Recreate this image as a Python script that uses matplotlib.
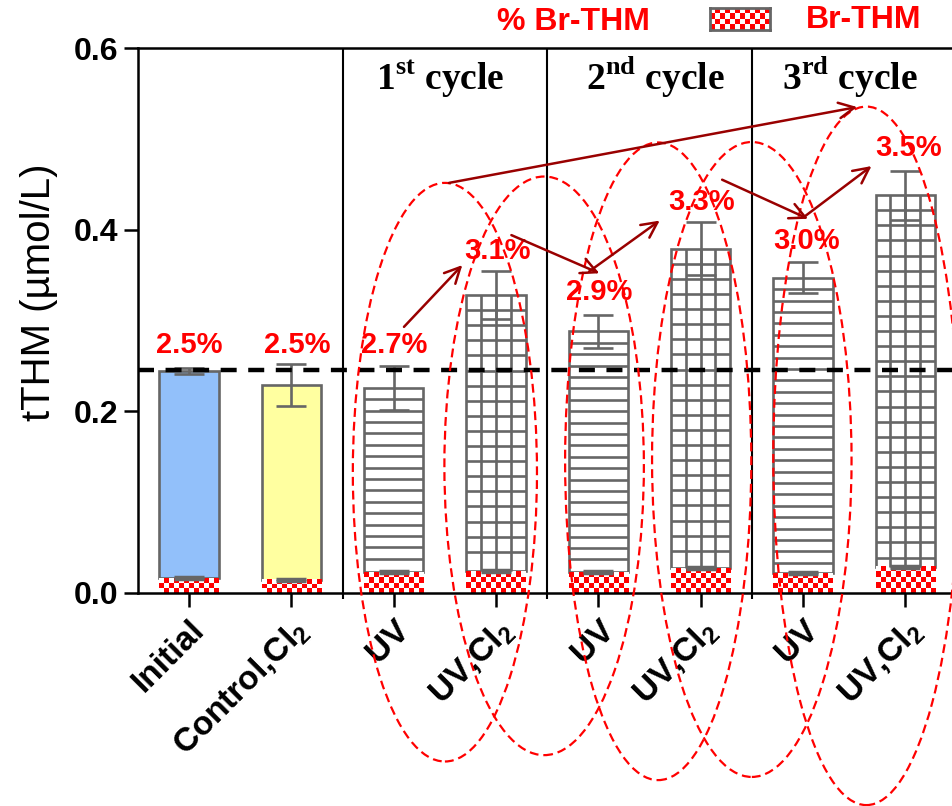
import numpy as np
import matplotlib.pyplot as plt
from matplotlib.patches import Ellipse
from matplotlib.colors import ListedColormap

# Datos
categories = ['Initial', 'Control,Cl$_{\\mathregular{2}}$',
              'UV', 'UV,Cl$_{\\mathregular{2}}$',
              'UV', 'UV,Cl$_{\\mathregular{2}}$',
              'UV', 'UV,Cl$_{\\mathregular{2}}$']
tthm = [0.2445, 0.229, 0.226, 0.328, 0.288, 0.379, 0.347, 0.438]
tthm_err = [0.003, 0.023, 0.024, 0.026, 0.018, 0.029, 0.017, 0.027]
br_thm = [0.0165, 0.0145, 0.023, 0.024, 0.023, 0.0275, 0.022, 0.0287]
br_err = [0.001, 0.001, 0.001, 0.001, 0.001, 0.001, 0.001, 0.001]
br_pct = [2.5, 2.5, 2.7, 3.1, 2.9, 3.3, 3.0, 3.5]
cycles = ['1$^{\\mathregular{st}}$ cycle', '2$^{\\mathregular{nd}}$ cycle',
          '3$^{\\mathregular{rd}}$ cycle']
reference_level = 0.245

# Estilos de cada barra
fills = ['#92C0FA', '#FFFFA0', 'white', 'white', 'white', 'white', 'white', 'white']
patterns = ['solid', 'solid', 'lines', 'grid', 'lines', 'grid', 'lines', 'grid']

# Posiciones de las anotaciones (coordenadas de datos)
pct_xy = [(0.0, 0.273), (1.06, 0.273), (2.0, 0.273), (3.01, 0.377),
          (4.01, 0.331), (5.01, 0.431), (6.04, 0.388), (7.03, 0.490)]
cycle_x = [2.455, 4.555, 6.46]
cycle_y = 0.554
arrows = [((2.10, 0.293), (2.67, 0.361)), ((3.15, 0.394), (4.01, 0.352)),
          ((3.91, 0.354), (4.60, 0.410)), ((5.21, 0.455), (6.05, 0.412)),
          ((6.01, 0.414), (6.67, 0.470)), ((2.54, 0.4515), (6.53, 0.535))]
# ellipse = (cx, cy, ancho, alto)
ellipses = [(2.50, 0.133, 1.80, 0.637), (3.47, 0.140, 1.95, 0.637),
            (4.585, 0.145, 1.82, 0.702), (5.50, 0.147, 1.95, 0.699),
            (6.62, 0.151, 1.82, 0.769)]

GREY = '#666666'
SANS = 'Liberation Sans'
SERIF = 'Liberation Serif'
plt.rcParams['font.family'] = [SANS, 'DejaVu Sans']

checker_cmap = ListedColormap(['white', '#FF0000'])


def checker(nx, ny):
    i, j = np.indices((ny, nx))
    return (i + j) % 2


fig = plt.figure(figsize=(9.53, 8.06), dpi=100)
ax = fig.add_axes([138 / 953, 1 - 593 / 806, 815 / 953, 545 / 806])

x = np.arange(len(categories))
width = 0.58
upper = [t - b for t, b in zip(tthm, br_thm)]
px_per_y = 545 / 0.6

# Segmento superior (tTHM)
ax.bar(x, upper, bottom=br_thm, width=width, color=fills, edgecolor=GREY,
       linewidth=1.9, zorder=2)

# Rayado hecho a mano para que el espaciado coincida
for xi, top, bot, pat in zip(x, tthm, br_thm, patterns):
    left, right = xi - width / 2, xi + width / 2
    if pat == 'lines':
        step = 11.4 / px_per_y
        ys = np.arange(top - step, bot + 0.4 * step, -step)
        ax.hlines(ys, left, right, color=GREY, lw=1.9, zorder=2.5)
    elif pat == 'grid':
        step = 15.1 / px_per_y
        ys = np.arange(top - step, bot + 0.4 * step, -step)
        ax.hlines(ys, left, right, color=GREY, lw=1.9, zorder=2.5)
        ax.vlines([xi - width / 4, xi, xi + width / 4], bot, top,
                  color=GREY, lw=1.9, zorder=2.5)

# Segmento inferior (Br-THM) en damero
for xi, b in zip(x, br_thm):
    ny = max(1, int(round(b * px_per_y / 5)))
    ax.imshow(checker(12, ny), cmap=checker_cmap, interpolation='nearest',
              aspect='auto', origin='lower', zorder=2.2,
              extent=[xi - width / 2, xi + width / 2, 0, b])

ax.errorbar(x, tthm, yerr=tthm_err, fmt='none', ecolor=GREY, elinewidth=1.9,
            capsize=11, capthick=1.9, zorder=3)
ax.errorbar(x, br_thm, yerr=br_err, fmt='none', ecolor=GREY, elinewidth=1.9,
            capsize=11, capthick=2.5, zorder=3)

ax.axhline(reference_level, color='black', lw=3.2, ls=(0, (3.6, 2.6)), zorder=4)

# Separadores de ciclos
ax.vlines([1.5, 3.5, 5.5], 0, 0.6, color='black', lw=1.5, zorder=1)

ax.set_xlim(-0.5, -0.5 + 815 / 102.3)
ax.set_ylim(0, 0.6)
ax.set_yticks([0.0, 0.2, 0.4, 0.6])
ax.set_yticklabels(['0.0', '0.2', '0.4', '0.6'], fontsize=23, fontweight='bold')
ax.set_xticks(x)
ax.set_xticklabels(categories, fontsize=24, fontweight='bold', rotation=45,
                   ha='right', va='top', rotation_mode='anchor')
ax.set_xticks([1.5, 3.5, 5.5], minor=True)
ax.tick_params(axis='both', which='major', length=10, width=1.8, pad=4)
ax.tick_params(axis='x', which='minor', length=4, width=1.5)
ax.tick_params(axis='x', which='major', pad=5)

ax.spines['right'].set_visible(False)
for s in ['left', 'bottom', 'top']:
    ax.spines[s].set_linewidth(1.8)

ax.set_ylabel('tTHM (\u00b5mol/L)', fontsize=29)
ax.yaxis.set_label_coords(-0.098, 0.552)

# Porcentajes de Br-THM
for (px, py), p in zip(pct_xy, br_pct):
    ax.text(px, py, f'{p:.1f}%', color='#FF0000', fontsize=21,
            fontweight='bold', ha='center', va='center', zorder=6)

for cx, lab in zip(cycle_x, cycles):
    ax.text(cx, cycle_y, lab, family=SERIF, fontsize=27, fontweight='bold',
            ha='center', va='baseline', zorder=6)

for (cx, cy, w, h) in ellipses:
    ax.add_patch(Ellipse((cx, cy), w, h, fill=False, ec='#FF0000', lw=1.6,
                         ls=(0, (4, 2.2)), clip_on=False, zorder=5))

for start, end in arrows:
    ax.annotate('', xy=end, xytext=start, annotation_clip=False,
                arrowprops=dict(arrowstyle='->', color='#990000', lw=1.8,
                                mutation_scale=28, shrinkA=0, shrinkB=0),
                zorder=6)

# Leyenda
fig.text(573 / 953, 1 - 22 / 806, '% Br-THM', color='#FF0000', fontsize=23,
         fontweight='bold', ha='center', va='center')
fig.text(864 / 953, 1 - 20 / 806, 'Br-THM', color='#FF0000', fontsize=23,
         fontweight='bold', ha='center', va='center')
lax = fig.add_axes([710 / 953, 1 - 30 / 806, 60 / 953, 22 / 806])
lax.imshow(checker(12, 4), cmap=checker_cmap, interpolation='nearest',
           aspect='auto')
lax.set_xticks([])
lax.set_yticks([])
for s in lax.spines.values():
    s.set_color(GREY)
    s.set_linewidth(2)

fig.savefig('out.png', dpi=100)
